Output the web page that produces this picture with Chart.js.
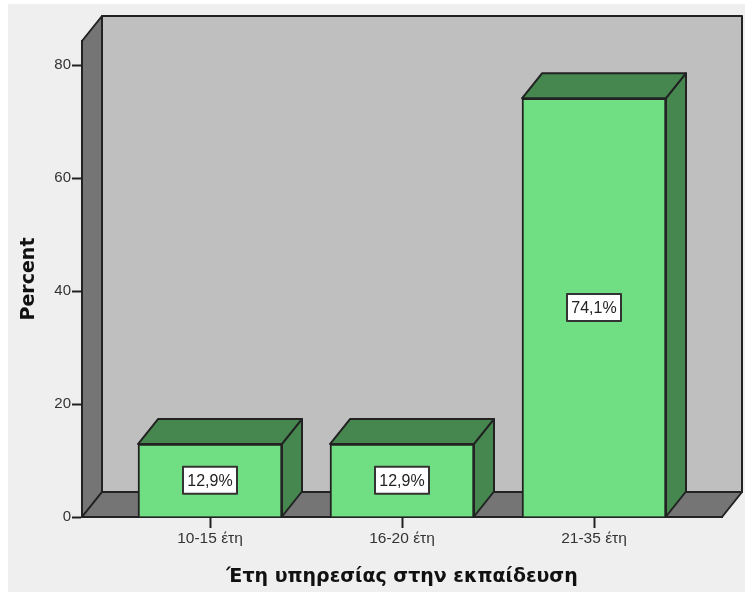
<!DOCTYPE html>
<html>
<head>
<meta charset="utf-8">
<title>Έτη υπηρεσίας στην εκπαίδευση</title>
<script src="https://cdn.jsdelivr.net/npm/chart.js@4/dist/chart.umd.min.js"></script>
<style>
    html, body { margin: 0; padding: 0; background: #ffffff; }
    canvas { display: block; }
</style>
</head>
<body>
<canvas id="yearsChart" width="745" height="592"></canvas>
<script>
const categories = ['10-15 έτη', '16-20 έτη', '21-35 έτη'];
const percentValues = [12.9, 12.9, 74.1];
const yTicks = [0, 20, 40, 60, 80];

// Offset of the back plane from the front plane
const DEPTH_X = 20;
const DEPTH_Y = 25;

const LINE = '#222222';
const LINE_WIDTH = 2;

function polygon(ctx, points, fill) {
    ctx.beginPath();
    points.forEach((p, i) => i ? ctx.lineTo(p[0], p[1]) : ctx.moveTo(p[0], p[1]));
    ctx.closePath();
    ctx.fillStyle = fill;
    ctx.fill();
    ctx.stroke();
}

// Page background, back wall, side wall and floor
const roomPlugin = {
    id: 'room',
    beforeDraw(chart) {
        const { ctx, chartArea: a } = chart;
        ctx.save();
        ctx.fillStyle = '#efefef';
        ctx.fillRect(8, 4, chart.width - 8, chart.height - 4);
        ctx.strokeStyle = LINE;
        ctx.lineWidth = LINE_WIDTH;
        ctx.lineJoin = 'round';
        polygon(ctx, [[a.left + DEPTH_X, a.top - DEPTH_Y], [a.right + DEPTH_X, a.top - DEPTH_Y],
            [a.right + DEPTH_X, a.bottom - DEPTH_Y], [a.left + DEPTH_X, a.bottom - DEPTH_Y]], '#bfbfbf');
        polygon(ctx, [[a.left, a.bottom], [a.left, a.top], [a.left + DEPTH_X, a.top - DEPTH_Y],
            [a.left + DEPTH_X, a.bottom - DEPTH_Y]], '#757575');
        polygon(ctx, [[a.left, a.bottom], [a.left + DEPTH_X, a.bottom - DEPTH_Y],
            [a.right + DEPTH_X, a.bottom - DEPTH_Y], [a.right, a.bottom]], '#757575');
        ctx.restore();
    }
};

// Top and right faces of each bar, then the boxed percent labels
const blockPlugin = {
    id: 'blocks',
    afterDatasetsDraw(chart) {
        const { ctx } = chart;
        const bars = chart.getDatasetMeta(0).data;
        ctx.save();
        ctx.strokeStyle = LINE;
        ctx.lineWidth = LINE_WIDTH;
        ctx.lineJoin = 'round';
        bars.forEach(bar => {
            const left = bar.x - bar.width / 2;
            const right = bar.x + bar.width / 2;
            polygon(ctx, [[left, bar.y], [left + DEPTH_X, bar.y - DEPTH_Y],
                [right + DEPTH_X, bar.y - DEPTH_Y], [right, bar.y]], '#468750');
            polygon(ctx, [[right, bar.y], [right + DEPTH_X, bar.y - DEPTH_Y],
                [right + DEPTH_X, bar.base - DEPTH_Y], [right, bar.base]], '#468750');
        });

        ctx.font = '16px "Liberation Sans"';
        ctx.textAlign = 'center';
        ctx.textBaseline = 'middle';
        bars.forEach((bar, i) => {
            const text = percentValues[i].toFixed(1).replace('.', ',') + '%';
            const midY = (bar.y + bar.base) / 2;
            ctx.fillStyle = '#ffffff';
            ctx.strokeStyle = '#333333';
            ctx.lineWidth = 2;
            ctx.fillRect(bar.x - 27, midY - 13.5, 54, 27);
            ctx.strokeRect(bar.x - 27, midY - 13.5, 54, 27);
            ctx.fillStyle = '#222222';
            ctx.fillText(text, bar.x, midY + 1);
        });
        ctx.restore();
    }
};

const ctx = document.getElementById('yearsChart').getContext('2d');
new Chart(ctx, {
    type: 'bar',
    data: {
        datasets: [{
            data: percentValues.map((v, i) => ({ x: i, y: v })),
            backgroundColor: '#70de82',
            borderColor: LINE,
            borderWidth: LINE_WIDTH,
            barThickness: 144
        }]
    },
    options: {
        responsive: false,
        animation: false,
        layout: { padding: { top: 41, right: 23, bottom: 0, left: 0 } },
        plugins: {
            legend: { display: false },
            tooltip: { enabled: false }
        },
        scales: {
            x: {
                type: 'linear',
                offset: false,
                min: -2 / 3,
                max: 8 / 3,
                afterBuildTicks(scale) {
                    scale.ticks = categories.map((c, i) => ({ value: i }));
                },
                afterFit(scale) { scale.height = 75; },
                grid: { offset: false, drawOnChartArea: false, color: LINE, tickLength: 11, tickWidth: LINE_WIDTH },
                border: { color: LINE, width: LINE_WIDTH },
                ticks: {
                    padding: 1,
                    color: '#333333',
                    font: { family: '"Liberation Sans"', size: 15.5 },
                    maxRotation: 0,
                    callback: value => categories[value]
                },
                title: {
                    display: true,
                    text: 'Έτη υπηρεσίας στην εκπαίδευση',
                    color: '#111111',
                    font: { family: '"DejaVu Sans"', size: 19, weight: 'bold' },
                    padding: { top: 9, bottom: 4 }
                }
            },
            y: {
                min: 0,
                max: 84.25,
                afterBuildTicks(scale) {
                    scale.ticks = yTicks.map(v => ({ value: v }));
                },
                afterFit(scale) { scale.width = 82; },
                grid: { drawOnChartArea: false, color: LINE, tickLength: 10, tickWidth: LINE_WIDTH },
                border: { color: LINE, width: LINE_WIDTH },
                ticks: {
                    padding: 1,
                    color: '#333333',
                    font: { family: '"Liberation Sans"', size: 15 }
                },
                title: {
                    display: true,
                    text: 'Percent',
                    color: '#111111',
                    font: { family: '"DejaVu Sans"', size: 19, weight: 'bold' },
                    padding: { top: 18, bottom: 0 }
                }
            }
        }
    },
    plugins: [roomPlugin, blockPlugin]
});
</script>
</body>
</html>
